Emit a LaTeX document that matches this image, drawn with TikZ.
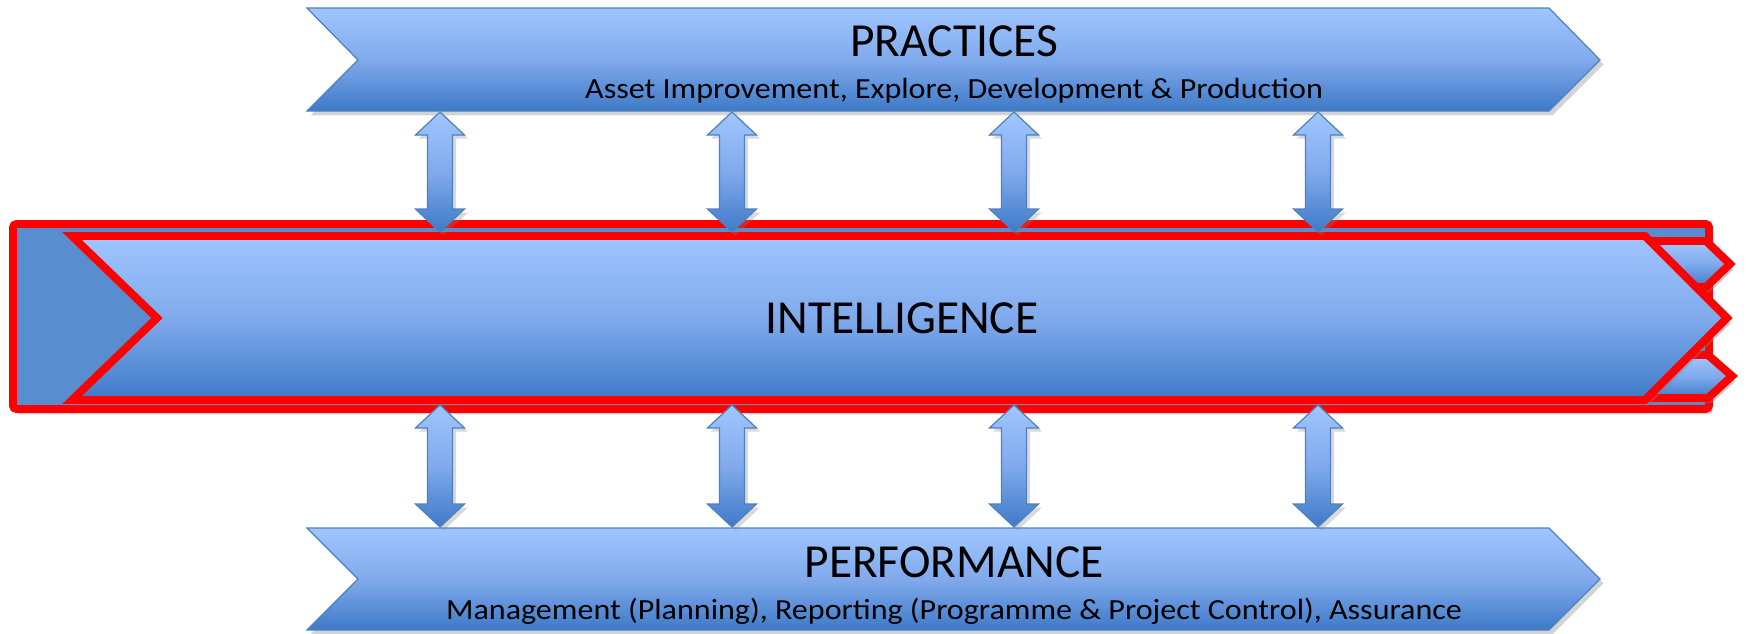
\documentclass[tikz,border=0pt]{standalone}
\usepackage{fontspec}
\usepackage{graphicx}
\setmainfont{Carlito}
\usetikzlibrary{shadows}
\definecolor{gtop}{RGB}{160,198,255}
\definecolor{gmid}{RGB}{128,170,236}
\definecolor{gbot}{RGB}{62,122,200}
\definecolor{bline}{RGB}{79,129,189}
\definecolor{midfill}{RGB}{88,141,208}
\definecolor{red}{RGB}{255,0,0}
\tikzset{
  band/.style={top color=gtop, bottom color=gbot, middle color=gmid, draw=bline, line width=0.7pt, line join=miter,
    drop shadow={opacity=0.35, shadow xshift=2pt, shadow yshift=-2.5pt}},
  redband/.style={top color=gtop, bottom color=gbot, middle color=gmid, draw=red, line width=4.5pt, line join=miter,
    drop shadow={opacity=0.4, shadow xshift=2pt, shadow yshift=-3pt}},
  dblarrow/.style={top color=gtop, bottom color=gbot, middle color=gmid, draw=bline, line width=0.7pt, line join=miter,
    drop shadow={opacity=0.3, shadow xshift=2pt, shadow yshift=-2pt}},
  title/.style={anchor=base, font=\fontsize{27}{30}\selectfont, inner sep=0pt},
  subtitle/.style={anchor=base, font=\fontsize{16.6}{19}\selectfont, inner sep=0pt},
}
\newcommand{\widetext}[1]{\scalebox{1.1}[1]{#1}}
\newcommand{\dbarrow}[3]{%
  \path[dblarrow] (#1,#2) -- ++(24.5,23) -- ++(-12,0) |- (#1+12.5,#3-23) -- ++(12,0) -- (#1,#3) -- ++(-24.5,-23) -- ++(12,0) -- (#1-12.5,#2+23) -- ++(-12,0) -- cycle;}
\begin{document}
\begin{tikzpicture}[x=0.02cm,y=-0.02cm]
\useasboundingbox (0,0) rectangle (1747,633);
% top band
\path[band] (307,8) -- (1549,8) -- (1600,60) -- (1549,111) -- (307,111) -- (358,60) -- cycle;
\node[title] (practices) at (954,56.7) {PRACTICES};
\node[subtitle] (practicessub) at (954,98.3) {\widetext{Asset Improvement, Explore, Development \& Production}};
% bottom band
\path[band] (307,528) -- (1549,528) -- (1600,579) -- (1549,630) -- (307,630) -- (358,579) -- cycle;
\node[title] (performance) at (954,577) {PERFORMANCE};
\node[subtitle] (performancesub) at (954,619) {\widetext{Management (Planning), Reporting (Programme \& Project Control), Assurance}};
% middle group
\draw[draw=red, fill=midfill, line width=4.5pt, rounded corners=2pt,
  drop shadow={opacity=0.35, shadow xshift=2pt, shadow yshift=-3pt}] (13,224) rectangle (1709,409);
\path[redband] (1600,241) -- (1706,241) -- (1730,264) -- (1706,287) -- (1600,287) -- cycle;
\path[redband] (1600,355) -- (1708,355) -- (1732,376) -- (1708,398) -- (1600,398) -- cycle;
\path[redband] (72,236) -- (1645,236) -- (1727,318) -- (1645,400) -- (72,400) -- (157,318) -- cycle;
\node[title] (intelligence) at (902,333.3) {INTELLIGENCE};
% arrows
\foreach \cx in {440,732,1014,1318} {
  \dbarrow{\cx}{112}{232}
  \dbarrow{\cx}{405}{527}
}
\end{tikzpicture}
\end{document}
